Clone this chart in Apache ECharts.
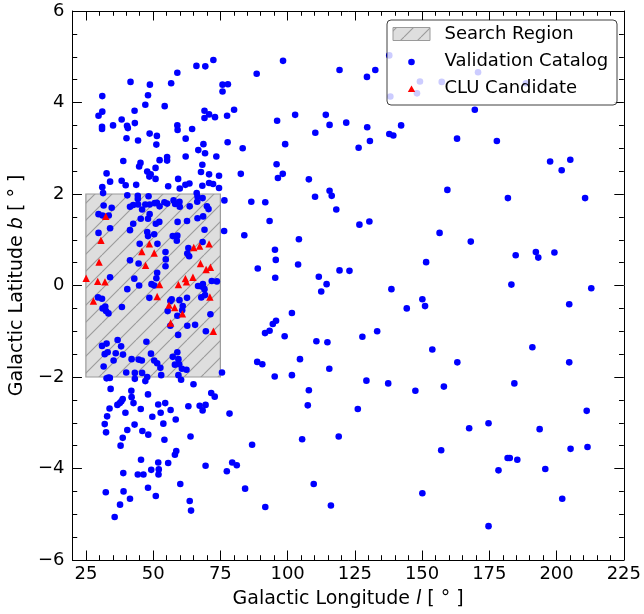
<!DOCTYPE html>
<html>
<head>
<meta charset="utf-8">
<script src="https://cdn.jsdelivr.net/npm/echarts@6/dist/echarts.min.js"></script>
<style>
html,body{margin:0;padding:0;background:#fff;}
#chart{width:644px;height:614px;}
</style>
</head>
<body>
<div id="chart"></div>
<script>
// ---- data (Galactic longitude l, latitude b in degrees) ----
const validationCatalog = [
[72.4,4.93],[66.1,4.80],[69.4,4.79],[59.0,4.65],[88.5,4.63],[41.6,4.45],[48.8,4.39],[56.7,4.42],[75.8,4.39],[77.8,4.40],
[75.8,4.24],[48.1,4.16],[31.1,4.14],[47.1,3.95],[54.3,3.92],[31.1,3.80],[29.7,3.71],[43.1,3.82],[69.1,3.82],[70.8,3.74],
[73.0,3.68],[69.1,3.66],[77.5,3.71],[80.1,3.84],[38.3,3.63],[35.1,3.50],[31.0,3.47],[31.0,3.42],[40.3,3.49],[40.6,3.44],
[43.2,3.55],[59.0,3.50],[59.1,3.40],[64.5,3.42],[40.1,3.22],[44.4,3.17],[48.7,3.32],[51.4,3.27],[51.2,3.08],[62.1,3.21],
[68.7,3.09],[66.8,2.96],[69.3,2.89],[77.7,3.13],[83.3,3.00],[38.9,2.72],[45.3,2.68],[44.8,2.60],[52.4,2.74],[55.2,2.81],
[55.2,2.73],[62.1,2.82],[68.3,2.64],[73.5,2.82],[32.7,2.45],[34.0,2.27],[31.1,2.15],[38.3,2.29],[39.8,2.19],[43.7,2.20],
[47.8,2.49],[49.1,2.43],[48.6,2.38],[50.9,2.57],[50.9,2.33],[55.6,2.17],[59.3,2.33],[59.9,2.12],[62.0,2.20],[63.5,2.23],
[67.8,2.48],[70.8,2.43],[68.3,2.18],[70.8,2.24],[72.3,2.22],[74.5,2.40],[74.5,2.13],[82.6,2.44],[98.3,4.91],[119.3,4.71],
[129.5,4.56],[132.6,4.71],[137.8,5.03],[149.2,4.46],[157.3,4.45],[138.2,4.13],[148.1,4.20],[170.8,4.66],[188.6,4.42],[96.1,3.60],
[102.8,3.73],[114.2,3.73],[115.6,3.51],[121.8,3.56],[110.3,3.34],[129.6,3.46],[142.2,3.50],[137.8,3.31],[139.3,3.28],[130.6,3.16],
[126.4,3.01],[99.1,3.09],[95.9,2.65],[96.4,2.35],[98.2,2.44],[107.9,2.32],[169.6,3.84],[163.0,3.21],[177.8,3.16],[197.6,2.71],
[201.9,2.52],[205.1,2.75],[159.4,2.09],[31.4,2.02],[40.4,1.97],[44.3,1.96],[44.3,1.89],[48.3,1.95],[66.2,2.02],[66.5,1.94],
[68.4,1.91],[76.5,1.86],[86.5,1.83],[31.6,1.75],[34.6,1.70],[41.4,1.72],[42.6,1.76],[44.4,1.77],[45.9,1.66],[47.1,1.77],
[48.7,1.77],[50.6,1.80],[51.4,1.81],[52.4,1.73],[54.2,1.82],[55.2,1.79],[57.6,1.86],[58.2,1.78],[59.8,1.83],[59.9,1.72],
[63.6,1.73],[66.4,1.83],[70.0,1.73],[70.6,1.67],[29.7,1.56],[31.2,1.53],[33.5,1.53],[42.6,1.35],[41.4,1.21],[45.4,1.46],
[48.1,1.46],[48.7,1.56],[51.0,1.35],[52.3,1.39],[59.1,1.39],[62.6,1.41],[66.5,1.47],[68.6,1.51],[29.7,1.15],[34.0,1.25],
[47.8,1.17],[48.1,1.08],[50.4,1.12],[57.3,1.08],[59.0,1.09],[58.8,0.98],[69.1,1.22],[68.4,0.95],[76.4,1.19],[83.9,1.10],
[45.0,0.91],[51.6,0.91],[63.1,0.82],[62.7,0.70],[63.4,0.64],[54.6,0.73],[54.7,0.57],[54.6,0.42],[41.4,0.55],[44.6,0.48],
[51.5,0.28],[51.2,0.16],[43.0,0.15],[34.0,0.18],[49.4,0.03],[50.4,0.00],[44.8,0.00],[40.4,-0.08],[66.7,-0.01],[68.0,-0.02],
[68.5,0.03],[71.8,0.10],[73.7,0.09],[69.1,-0.08],[69.3,-0.21],[67.9,-0.26],[48.6,-0.27],[56.4,-0.34],[56.9,-0.30],[59.8,-0.32],
[62.6,-0.27],[61.0,-0.45],[55.4,-0.56],[60.8,-0.54],[59.0,-0.66],[29.5,-0.26],[31.0,-0.29],[31.2,-0.50],[32.2,-0.46],[32.5,-0.56],
[33.4,-0.61],[38.4,-0.47],[65.6,-0.86],[62.7,-0.88],[69.6,-1.00],[71.3,-0.63],[59.3,-1.08],[56.4,-0.88],[31.0,-1.32],[32.7,-1.27],
[32.0,-1.50],[33.1,-1.46],[36.1,-1.48],[35.3,-1.64],[36.8,-1.19],[38.1,-1.33],[38.8,-1.51],[42.0,-1.61],[47.5,-1.23],[44.6,-1.62],
[45.8,-1.64],[49.2,-1.49],[50.4,-1.64],[51.5,-1.70],[52.7,-1.80],[57.3,-1.56],[59.0,-1.46],[59.4,-1.61],[58.1,-1.73],[59.7,-1.72],
[60.7,-1.82],[62.4,-1.84],[31.6,-1.77],[33.4,-2.01],[40.0,-1.90],[43.2,-1.91],[45.9,-1.91],[47.8,-2.00],[53.0,-1.96],[59.4,-1.96],
[75.6,-1.90],[88.9,0.37],[88.7,-1.67],[91.7,1.82],[110.2,1.94],[115.6,2.07],[116.4,1.96],[118.1,1.66],[93.3,1.41],[126.7,1.33],
[130.4,1.40],[156.5,1.15],[104.2,1.01],[95.3,0.78],[95.6,0.56],[95.4,0.17],[103.9,0.46],[111.6,0.19],[114.5,0.03],[112.5,-0.13],
[119.3,0.33],[123.0,0.32],[138.6,-0.08],[151.5,0.51],[150.1,-0.30],[151.1,-0.45],[144.3,-0.50],[101.6,-0.60],[95.7,-0.77],[94.5,-0.84],
[93.3,-0.99],[91.6,-1.04],[98.9,-1.11],[110.7,-1.22],[114.8,-1.24],[127.8,-1.12],[133.3,-1.00],[153.8,-1.40],[104.6,-1.61],[90.6,-1.72],
[115.5,-1.82],[95.2,-1.99],[101.6,-1.96],[181.9,1.91],[210.6,1.91],[168.1,0.96],[184.8,0.66],[192.3,0.73],[193.2,0.61],[199.2,0.72],
[183.2,0.02],[212.9,-0.06],[204.7,-0.41],[191.0,-1.35],[163.1,-1.68],[204.7,-1.68],[32.7,-2.03],[33.9,-2.02],[43.2,-2.04],[47.1,-2.09],
[60.4,-2.06],[65.0,-2.16],[34.2,-2.26],[41.9,-2.30],[48.1,-2.38],[71.6,-2.35],[72.9,-2.43],[38.7,-2.48],[38.2,-2.53],[37.6,-2.57],
[36.7,-2.61],[42.0,-2.44],[42.7,-2.57],[51.9,-2.60],[54.5,-2.57],[63.1,-2.64],[67.3,-2.63],[69.5,-2.61],[68.4,-2.73],[78.4,-2.80],
[33.8,-2.69],[32.9,-2.86],[45.4,-2.70],[39.7,-2.78],[52.8,-2.78],[56.5,-2.72],[49.7,-2.87],[58.4,-2.93],[32.0,-3.03],[32.5,-3.21],
[43.1,-3.04],[53.8,-3.02],[40.4,-3.16],[46.0,-3.18],[48.2,-3.26],[38.7,-3.33],[63.9,-3.30],[54.2,-3.37],[37.9,-3.50],[86.8,-3.48],
[58.6,-3.62],[58.1,-3.70],[45.5,-3.81],[51.9,-3.87],[55.6,-3.88],[49.3,-4.03],[52.1,-4.02],[52.0,-4.13],[38.9,-4.10],[44.3,-4.13],
[46.4,-4.13],[69.5,-3.94],[77.4,-4.06],[79.4,-3.87],[81.1,-3.93],[60.1,-4.34],[48.1,-4.42],[32.4,-4.52],[39.0,-4.50],[51.0,-4.60],
[84.2,-4.44],[41.4,-4.66],[63.6,-4.71],[64.1,-4.92],[37.7,-4.79],[35.7,-5.06],[129.3,-2.08],[137.4,-2.14],[147.5,-2.30],[158.1,-2.21],
[107.9,-2.29],[107.5,-2.62],[126.1,-2.70],[105.4,-3.36],[119.0,-3.30],[157.1,-3.60],[109.7,-4.34],[150.1,-4.54],[91.7,-4.84],[116.1,-4.81],
[184.3,-2.14],[211.2,-2.74],[174.7,-3.01],[167.5,-3.12],[193.7,-3.14],[181.8,-3.77],[182.6,-3.77],[185.4,-3.81],[205.2,-3.57],[211.5,-3.53],
[178.4,-4.04],[195.8,-4.01],[202.1,-4.66],[174.7,-5.26]
];
const cluCandidates = [
[32.4,1.51],[30.6,0.99],[29.9,0.51],[25.1,0.16],[29.4,0.09],[32.1,0.08],[27.8,-0.34],[45.8,0.74],[48.6,0.91],[50.4,0.71],
[47.2,0.44],[52.4,0.02],[51.5,-0.24],[55.9,-0.43],[58.0,-0.48],[60.9,-0.62],[56.5,-0.82],[59.4,0.02],[62.4,0.08],[62.0,0.15],
[64.8,0.18],[65.1,0.83],[67.3,0.86],[70.8,0.91],[67.6,0.48],[69.7,0.35],[71.3,0.40],[71.1,-0.25],[72.4,-1.00]
];
const searchRegionL = [25, 75];
const searchRegionB = [-2, 2];
const xMajorTicks = [25, 50, 75, 100, 125, 150, 175, 200, 225];
const xMinorTicks = [25, 30, 35, 40, 45, 50, 55, 60, 65, 70, 75, 80, 85, 90, 95, 100, 105, 110, 115, 120, 125,
  130, 135, 140, 145, 150, 155, 160, 165, 170, 175, 180, 185, 190, 195, 200, 205, 210, 215, 220, 225];
const legendLabels = ['Search Region', 'Validation Catalog', 'CLU Candidate'];

// ---- hatch pattern ----
function makeHatch(bg) {
  const p = 17;
  const c = document.createElement('canvas');
  c.width = p; c.height = p;
  const g = c.getContext('2d');
  if (bg) { g.fillStyle = bg; g.fillRect(0, 0, p, p); }
  g.strokeStyle = '#9a9a9a';
  g.lineWidth = 1.1;
  for (let k = -1; k <= 1; k++) {
    g.beginPath();
    g.moveTo(k * p, p);
    g.lineTo(k * p + p, 0);
    g.stroke();
  }
  return { image: c, repeat: 'repeat' };
}
const hatch = makeHatch('#dedede');

const FONT = 'DejaVu Sans';
const AX = '#000';
const TITLE = 19;
const minus = v => (v < 0 ? '\u2212' + Math.abs(v) : String(v));

const chart = echarts.init(document.getElementById('chart'), null, { renderer: 'canvas' });

function xAx(pos, major, labels) {
  return {
    type: 'value', min: 20, max: 225, position: pos, gridIndex: 0,
    axisLine: { show: major, onZero: false, lineStyle: { color: AX, width: 1 } },
    axisTick: { show: true, inside: true, length: major ? 9.5 : 4.8, customValues: major ? xMajorTicks : xMinorTicks,
      lineStyle: { color: AX, width: 1 } },
    axisLabel: labels ? { show: true, customValues: xMajorTicks, fontSize: 18, fontFamily: FONT, color: '#000', margin: 5 } : { show: false },
    splitLine: { show: false },
    name: labels ? 'Galactic Longitude {i|l} [ {s|°} ]' : '',
    nameLocation: 'middle', nameGap: 30,
    nameTextStyle: { fontSize: TITLE, fontFamily: FONT, color: '#000',
      rich: { i: { fontSize: TITLE, fontFamily: FONT, fontStyle: 'italic' }, s: { fontSize: TITLE, fontFamily: FONT } } }
  };
}
function yAx(pos, labels) {
  return {
    type: 'value', min: -6, max: 6, interval: 2, position: pos, gridIndex: 0,
    axisLine: { show: true, onZero: false, lineStyle: { color: AX, width: 1 } },
    axisTick: { show: true, inside: true, length: 9.5, lineStyle: { color: AX, width: 1 } },
    minorTick: { show: true, splitNumber: 4, length: 4.8, lineStyle: { color: AX, width: 1 } },
    axisLabel: labels ? { show: true, fontSize: 18, fontFamily: FONT, color: '#000', margin: 8, formatter: minus } : { show: false },
    splitLine: { show: false }, minorSplitLine: { show: false },
    name: labels ? 'Galactic Latitude {i|b} [ {s|°} ]' : '',
    nameLocation: 'middle', nameRotate: 90, nameGap: 35,
    nameTextStyle: { fontSize: TITLE, fontFamily: FONT, color: '#000',
      rich: { i: { fontSize: TITLE, fontFamily: FONT, fontStyle: 'italic' }, s: { fontSize: TITLE, fontFamily: FONT } } }
  };
}

// legend drawn as graphic (matplotlib-style box), placed above the data
const LX = 387, LY = 20, LZ = 100;
const legendGraphic = {
  type: 'group', x: LX, y: LY, z: LZ,
  children: [
    { type: 'rect', z: LZ, shape: { x: 0, y: 0, width: 230, height: 85, r: 4 },
      style: { fill: 'rgba(255,255,255,0.8)', stroke: 'rgba(0,0,0,0.75)', lineWidth: 1 } },
    { type: 'rect', z: LZ + 1, shape: { x: 6, y: 7.5, width: 37, height: 13 },
      style: { fill: makeHatch('#dedede'), stroke: '#9a9a9a', lineWidth: 1 } },
    { type: 'circle', z: LZ + 1, shape: { cx: 24.5, cy: 42, r: 3.3 }, style: { fill: '#0000ff' } },
    { type: 'polygon', z: LZ + 1, shape: { points: [[24.5, 65.5], [20.8, 72], [28.2, 72]] }, style: { fill: '#ff0000' } },
    { type: 'text', z: LZ + 1, x: 57.5, y: 14, style: { text: legendLabels[0], font: '18px "DejaVu Sans"', fill: '#000', verticalAlign: 'middle' } },
    { type: 'text', z: LZ + 1, x: 57.5, y: 41, style: { text: legendLabels[1], font: '18px "DejaVu Sans"', fill: '#000', verticalAlign: 'middle' } },
    { type: 'text', z: LZ + 1, x: 57.5, y: 68, style: { text: legendLabels[2], font: '18px "DejaVu Sans"', fill: '#000', verticalAlign: 'middle' } }
  ]
};

chart.setOption({
  animation: false,
  backgroundColor: '#fff',
  grid: { left: 72, right: 18, top: 11, bottom: 52, containLabel: false },
  xAxis: [xAx('bottom', true, true), xAx('bottom', false, false), xAx('top', true, false), xAx('top', false, false)],
  yAxis: [yAx('left', true), yAx('right', false)],
  graphic: { elements: [legendGraphic] },
  series: [
    {
      type: 'custom', name: 'Search Region', xAxisIndex: 0, yAxisIndex: 0, z: 1, silent: true,
      data: [[searchRegionL[0], searchRegionB[1], searchRegionL[1], searchRegionB[0]]],
      encode: { x: [0, 2], y: [1, 3] },
      renderItem: function (params, api) {
        const tl = api.coord([api.value(0), api.value(1)]);
        const br = api.coord([api.value(2), api.value(3)]);
        return { type: 'rect', shape: { x: tl[0], y: tl[1], width: br[0] - tl[0], height: br[1] - tl[1] },
          style: { fill: hatch, stroke: '#9a9a9a', lineWidth: 1.2 } };
      }
    },
    {
      type: 'scatter', name: 'Validation Catalog', xAxisIndex: 0, yAxisIndex: 0, z: 2,
      data: validationCatalog, symbol: 'circle', symbolSize: 6.6,
      itemStyle: { color: '#0000ff', opacity: 1 }, silent: true
    },
    {
      type: 'scatter', name: 'CLU Candidate', xAxisIndex: 0, yAxisIndex: 0, z: 3,
      data: cluCandidates, symbol: 'triangle', symbolSize: 7.4,
      itemStyle: { color: '#ff0000', opacity: 1 }, silent: true
    }
  ]
});
</script>
</body>
</html>
